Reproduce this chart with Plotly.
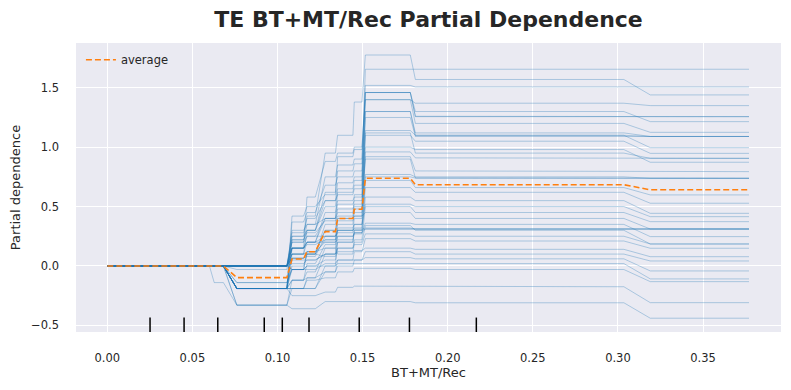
import plotly.graph_objects as go

# ---- data ----
# x-extent of each constant plateau of the (centered) ICE curves
plateau_start = [0.0, 0.0628, 0.0761, 0.1085, 0.1173, 0.128, 0.1353, 0.1451, 0.1516, 0.181, 0.319]
plateau_end = [0.060, 0.0682, 0.1055, 0.1153, 0.1222, 0.134, 0.1443, 0.1496, 0.178, 0.3035, 0.377]

# level of every individual ICE line on plateaus 1..10 (plateau 0 is 0 for all)
ice_levels = [
    [0, 0, 0.25, 0.42, 0.95, 1.10, 1.38, 1.776, 1.57, 1.44],
    [0, 0, 0.10, 0.30, 0.62, 0.80, 0.86, 1.656, 1.656, 1.656],
    [0, 0, 0.20, 0.35, 0.75, 0.85, 0.90, 1.52, 1.507, 1.507],
    [0, -0.19, 0.15, 0.58, 0.88, 0.95, 1.00, 1.40, 1.37, 1.35],
    [0, -0.19, 0.42, 0.50, 0.60, 0.92, 0.98, 1.46, 1.257, 1.257],
    [0, -0.19, 0.25, 0.30, 0.55, 0.70, 0.75, 1.46, 1.26, 1.257],
    [0, -0.19, 0.37, 0.45, 0.68, 0.75, 0.80, 1.46, 1.30, 1.215],
    [0, 0, 0.22, 0.30, 0.50, 0.65, 0.72, 1.40, 1.20, 1.125],
    [0, -0.19, 0.10, 0.20, 0.40, 0.62, 0.68, 1.30, 1.10, 1.09],
    [0, 0, 0.15, 0.20, 0.45, 0.55, 0.58, 1.25, 1.09, 1.09],
    [0, 0, 0.28, 0.40, 0.55, 0.60, 0.65, 1.30, 1.12, 1.09],
    [0, -0.19, 0.00, 0.10, 0.35, 0.48, 0.52, 1.14, 1.10, 0.996],
    [0, -0.03, 0.30, 0.35, 0.40, 0.45, 0.50, 1.10, 1.05, 0.948],
    [0, -0.19, 0.22, 0.28, 0.38, 0.42, 0.60, 1.12, 0.95, 0.906],
    [0, -0.14, -0.03, 0.12, 0.30, 0.40, 0.45, 0.96, 0.91, 0.906],
    [0, 0, 0.20, 0.25, 0.25, 0.38, 0.42, 1.00, 0.98, 0.873],
    [0, -0.19, 0.15, 0.20, 0.20, 0.30, 0.40, 0.92, 0.80, 0.794],
    [0, 0, 0.065, 0.10, 0.22, 0.35, 0.48, 0.75, 0.74, 0.738],
    [0, 0, 0.15, 0.25, 0.40, 0.52, 0.55, 0.90, 0.74, 0.738],
    [0, -0.19, -0.12, -0.05, 0.15, 0.32, 0.35, 0.77, 0.75, 0.738],
    [0, 0, 0.065, 0.08, 0.25, 0.30, 0.32, 0.72, 0.66, 0.598],
    [0, -0.19, -0.19, -0.10, 0.10, 0.20, 0.30, 0.66, 0.62, 0.528],
    [0, -0.33, -0.12, 0.02, 0.18, 0.25, 0.27, 0.58, 0.55, 0.443],
    [0, 0, 0.15, 0.20, 0.25, 0.28, 0.35, 0.52, 0.50, 0.415],
    [0, -0.19, -0.03, 0.00, 0.05, 0.15, 0.22, 0.50, 0.45, 0.373],
    [0, -0.19, 0.05, 0.05, 0.10, 0.25, 0.28, 0.311, 0.311, 0.311],
    [0, 0, 0.15, 0.18, 0.22, 0.30, 0.31, 0.32, 0.311, 0.311],
    [0, 0, -0.03, 0.10, 0.30, 0.40, 0.42, 0.45, 0.40, 0.311],
    [0, -0.19, -0.19, -0.19, 0.00, 0.20, 0.30, 0.311, 0.311, 0.311],
    [0, 0, 0.065, 0.12, 0.20, 0.22, 0.28, 0.36, 0.35, 0.247],
    [0, 0, 0.10, 0.12, 0.15, 0.10, 0.20, 0.34, 0.30, 0.185],
    [0, 0, 0.10, 0.10, 0.08, 0.15, 0.18, 0.27, 0.25, 0.185],
    [0, -0.19, -0.19, -0.19, -0.05, 0.05, 0.12, 0.23, 0.21, 0.149],
    [0, 0, 0.02, 0.05, 0.10, 0.12, 0.13, 0.15, 0.14, 0.078],
    [0, -0.19, -0.12, -0.10, -0.05, 0.00, 0.05, 0.12, 0.10, 0.042],
    [0, -0.14, -0.03, -0.03, 0.02, 0.05, 0.05, 0.07, 0.06, -0.042],
    [0, 0, -0.03, 0.00, 0.00, 0.02, 0.02, 0.02, 0.02, -0.109],
    [-0.14, -0.33, -0.19, -0.12, -0.10, -0.05, -0.02, -0.02, -0.03, -0.132],
    [0, -0.19, -0.25, -0.25, -0.22, -0.18, -0.17, -0.17, -0.175, -0.309],
    [0, -0.33, -0.36, -0.36, -0.30, -0.30, -0.30, -0.30, -0.31, -0.44],
]

# average partial dependence on each plateau
average_levels = [0.0, 0.0, -0.098, 0.059, 0.12, 0.289, 0.40, 0.477, 0.738, 0.684, 0.641]

# deciles of the feature (rug marks)
deciles = [0.0251, 0.0451, 0.0649, 0.0922, 0.1028, 0.1185, 0.148, 0.1775, 0.2168]

x_ticks = [0.0, 0.05, 0.10, 0.15, 0.20, 0.25, 0.30, 0.35]
x_tick_text = ["0.00", "0.05", "0.10", "0.15", "0.20", "0.25", "0.30", "0.35"]
y_ticks = [-0.5, 0.0, 0.5, 1.0, 1.5]
y_tick_text = ["\u22120.5", "0.0", "0.5", "1.0", "1.5"]


def step_xy(levels):
    xs, ys = [], []
    for s, e, v in zip(plateau_start, plateau_end, levels):
        xs += [s, e]
        ys += [v, v]
    return xs, ys


fig = go.Figure()

for row in ice_levels:
    xs, ys = step_xy([0.0] + row)
    fig.add_trace(go.Scatter(
        x=xs, y=ys, mode="lines", showlegend=False, hoverinfo="skip",
        line=dict(color="rgba(31,119,180,0.32)", width=1.0),
    ))

ax, ay = step_xy(average_levels)
fig.add_trace(go.Scatter(
    x=ax, y=ay, mode="lines", name="average",
    line=dict(color="#ff7f0e", width=1.6, dash="6px,3px"),
))

for d in deciles:
    fig.add_shape(type="line", xref="x", yref="y domain",
                  x0=d, x1=d, y0=0, y1=0.05,
                  line=dict(color="black", width=1.5))

FONT = "DejaVu Sans"
TXT = "#262626"

# the page body adds an 8px offset, so the figure is 8px smaller than the window
fig.update_layout(
    width=783, height=382,
    margin=dict(l=68, r=10, t=35, b=58, autoexpand=False),
    paper_bgcolor="white",
    plot_bgcolor="#EAEAF2",
    font=dict(family=FONT, color=TXT, size=12),
    title=dict(text="<b>TE BT+MT/Rec Partial Dependence</b>",
               font=dict(family=FONT, size=22, color=TXT),
               x=0.5, xref="paper", xanchor="center",
               y=0.970, yref="container", yanchor="middle"),
    showlegend=True,
    legend=dict(x=0.007, y=0.992, xanchor="left", yanchor="top",
                bgcolor="rgba(0,0,0,0)", borderwidth=0,
                font=dict(family=FONT, size=11.5, color=TXT)),
    xaxis=dict(range=[-0.0184, 0.3958], tickvals=x_ticks, ticktext=x_tick_text,
               showgrid=True, gridcolor="white", gridwidth=1, zeroline=False,
               showline=False, ticks="", automargin=False, ticklabelstandoff=17,
               tickfont=dict(size=11.5, color=TXT),
               title=dict(text="BT+MT/Rec", font=dict(size=13, color=TXT), standoff=4)),
    yaxis=dict(range=[-0.556, 1.877], tickvals=y_ticks, ticktext=y_tick_text,
               showgrid=True, gridcolor="white", gridwidth=1, zeroline=False,
               showline=False, ticks="", automargin=False, ticklabelstandoff=16,
               tickfont=dict(size=11.5, color=TXT),
               title=dict(text="Partial dependence", font=dict(size=13, color=TXT), standoff=10)),
)

fig.write_html("out.html")
